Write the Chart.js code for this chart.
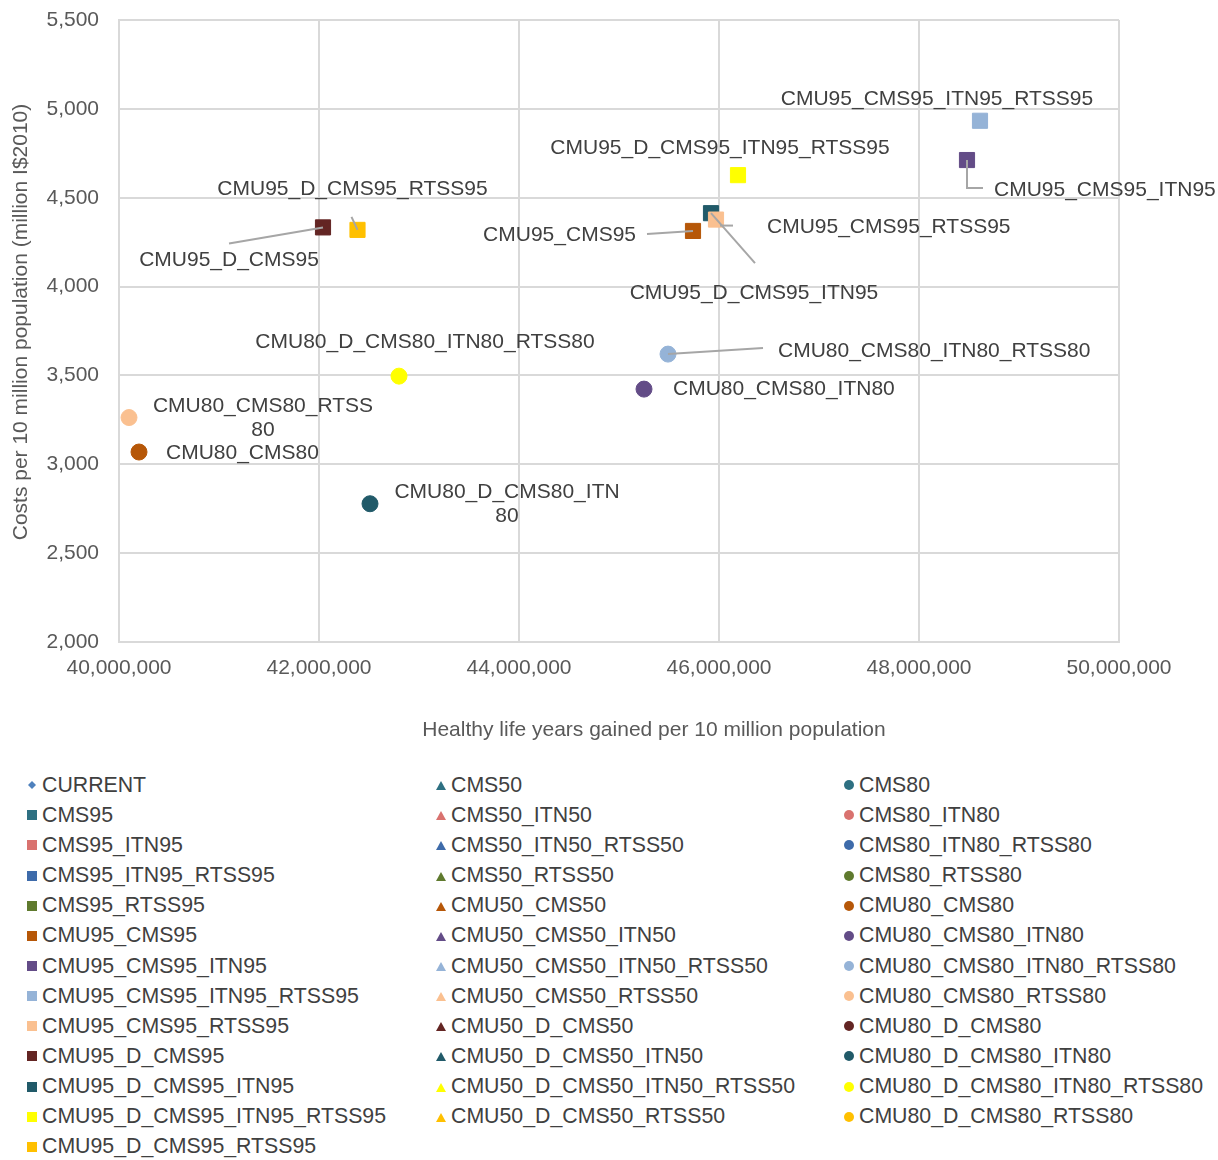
<!DOCTYPE html>
<html>
<head>
<meta charset="utf-8">
<title>Costs vs healthy life years gained</title>
<script src="https://cdn.jsdelivr.net/npm/chart.js"></script>
<style>
    body { margin: 0; background: #ffffff; font-family: "Liberation Sans", Arial, sans-serif; }
    #wrap { position: relative; width: 1218px; height: 1160px; }
    #chartBox { position: absolute; left: 0; top: 0; width: 1218px; height: 760px; }
    #legend { position: absolute; left: 0; top: 770px; width: 1218px; }
    .col { position: absolute; top: 0; }
    .item { height: 30.17px; display: flex; align-items: center; font-size: 21.3px; color: #404040; white-space: nowrap; }
    .item svg { width: 10px; height: 10px; margin-right: 5px; flex: none; }
</style>
</head>
<body>
<div id="wrap">
    <div id="chartBox"><canvas id="chart"></canvas></div>
    <div id="legend"></div>
</div>
<script>
// scenario names, in legend order (3 columns: 95 + current, 50, 80)
const scenarios = [
    'CURRENT', 'CMS95', 'CMS95_ITN95', 'CMS95_ITN95_RTSS95', 'CMS95_RTSS95',
    'CMU95_CMS95', 'CMU95_CMS95_ITN95', 'CMU95_CMS95_ITN95_RTSS95', 'CMU95_CMS95_RTSS95',
    'CMU95_D_CMS95', 'CMU95_D_CMS95_ITN95', 'CMU95_D_CMS95_ITN95_RTSS95', 'CMU95_D_CMS95_RTSS95',
    'CMS50', 'CMS50_ITN50', 'CMS50_ITN50_RTSS50', 'CMS50_RTSS50',
    'CMU50_CMS50', 'CMU50_CMS50_ITN50', 'CMU50_CMS50_ITN50_RTSS50', 'CMU50_CMS50_RTSS50',
    'CMU50_D_CMS50', 'CMU50_D_CMS50_ITN50', 'CMU50_D_CMS50_ITN50_RTSS50', 'CMU50_D_CMS50_RTSS50',
    'CMS80', 'CMS80_ITN80', 'CMS80_ITN80_RTSS80', 'CMS80_RTSS80',
    'CMU80_CMS80', 'CMU80_CMS80_ITN80', 'CMU80_CMS80_ITN80_RTSS80', 'CMU80_CMS80_RTSS80',
    'CMU80_D_CMS80', 'CMU80_D_CMS80_ITN80', 'CMU80_D_CMS80_ITN80_RTSS80', 'CMU80_D_CMS80_RTSS80'
];

// healthy life years gained per 10 million (null = not inside the plotted range)
const healthyYears = [
    null, null, null, null, null,
    45740000, 48480000, 48610000, 45970000,
    42040000, 45920000, 46190000, 42385000,
    null, null, null, null, null, null, null, null, null, null, null, null,
    null, null, null, null,
    40200000, 45250000, 45490000, 40100000,
    null, 42510000, 42800000, null
];

// costs per 10 million population (million I$2010)
const costs = [
    null, null, null, null, null,
    4313, 4712, 4933, 4377,
    4333, 4413, 4627, 4319,
    null, null, null, null, null, null, null, null, null, null, null, null,
    null, null, null, null,
    3069, 3423, 3620, 3263,
    null, 2778, 3496, null
];

const xTicks = [40000000, 42000000, 44000000, 46000000, 48000000, 50000000];
const yTicks = [2000, 2500, 3000, 3500, 4000, 4500, 5000, 5500];
const xTitle = 'Healthy life years gained per 10 million population';
const yTitle = 'Costs per 10 million population (million I$2010)';

// styles
const palette = ['#2E7082', '#D9726F', '#3E6BAA', '#5F7A2E', '#B65708', '#634C87',
                 '#95B3D7', '#FAC090', '#632523', '#215A69', '#FFFF00', '#FFC000'];
const colors = ['#4F81BD', ...palette, ...palette, ...palette];
const shapes = scenarios.map((s, i) => i === 0 ? 'rectRot' : i < 13 ? 'rect' : i < 25 ? 'triangle' : 'circle');
const FONT = '"Liberation Sans", Arial, sans-serif';

// where each data label sits relative to its point (px), plus leader lines
const labelPlacement = {
    'CMU95_CMS95_ITN95_RTSS95': { dx: -43, dy: -22, align: 'center' },
    'CMU95_CMS95_ITN95': { dx: 27, dy: 30, align: 'left', leader: [[0, 0], [0, 28], [16, 28]] },
    'CMU95_D_CMS95_ITN95_RTSS95': { dx: -18, dy: -27, align: 'center' },
    'CMU95_D_CMS95_ITN95': { dx: 43, dy: 80, align: 'center', leader: [[0, 0], [44, 50]] },
    'CMU95_CMS95_RTSS95': { dx: 51, dy: 8, align: 'left', leader: [[4, 6], [17, 6]] },
    'CMU95_CMS95': { dx: -57, dy: 4, align: 'right', leader: [[-46, 3], [0, 0]] },
    'CMU95_D_CMS95': { dx: -94, dy: 33, align: 'center', leader: [[-94, 16], [0, 0]] },
    'CMU95_D_CMS95_RTSS95': { dx: -5, dy: -41, align: 'center', leader: [[-6, -13], [0, 0]] },
    'CMU80_D_CMS80_ITN80_RTSS80': { dx: 26, dy: -34, align: 'center' },
    'CMU80_CMS80_ITN80_RTSS80': { dx: 110, dy: -3, align: 'left', leader: [[0, 0], [95, -6]] },
    'CMU80_CMS80_ITN80': { dx: 29, dy: 0, align: 'left' },
    'CMU80_CMS80_RTSS80': { dx: 134, dy: -11, align: 'center', lines: ['CMU80_CMS80_RTSS', '80'] },
    'CMU80_CMS80': { dx: 27, dy: 1, align: 'left' },
    'CMU80_D_CMS80_ITN80': { dx: 137, dy: -12, align: 'center', lines: ['CMU80_D_CMS80_ITN', '80'] }
};

const pointLabels = {
    id: 'pointLabels',
    afterDatasetsDraw(chart) {
        const ctx = chart.ctx;
        ctx.save();
        chart.data.datasets.forEach((ds, i) => {
            const place = labelPlacement[ds.label];
            const pt = chart.getDatasetMeta(i).data[0];
            if (!place || !pt) return;
            if (place.leader) {
                ctx.beginPath();
                ctx.strokeStyle = '#A6A6A6';
                ctx.lineWidth = 2;
                place.leader.forEach(([lx, ly], k) => {
                    if (k === 0) ctx.moveTo(pt.x + lx, pt.y + ly);
                    else ctx.lineTo(pt.x + lx, pt.y + ly);
                });
                ctx.stroke();
            }
            ctx.font = '21px ' + FONT;
            ctx.fillStyle = '#404040';
            ctx.textAlign = place.align;
            ctx.textBaseline = 'middle';
            (place.lines || [ds.label]).forEach((t, k) => {
                ctx.fillText(t, pt.x + place.dx, pt.y + place.dy + k * 24);
            });
        });
        ctx.restore();
    }
};

const axisTitles = {
    id: 'axisTitles',
    afterDraw(chart) {
        const ctx = chart.ctx;
        const area = chart.chartArea;
        ctx.save();
        ctx.font = '21px ' + FONT;
        ctx.fillStyle = '#595959';
        ctx.textAlign = 'center';
        ctx.textBaseline = 'middle';
        ctx.fillText(xTitle, (area.left + area.right) / 2 + 35, 730);
        ctx.translate(21, (area.top + area.bottom) / 2 - 9);
        ctx.rotate(-Math.PI / 2);
        ctx.fillText(yTitle, 0, 0);
        ctx.restore();
    }
};

const datasets = scenarios.map((name, i) => ({
    label: name,
    data: healthyYears[i] == null ? [] : [{ x: healthyYears[i], y: costs[i] }],
    pointStyle: shapes[i],
    backgroundColor: colors[i],
    borderColor: colors[i],
    borderWidth: 1,
    pointRadius: shapes[i] === 'rect' ? 10.7 : 8,
    pointHoverRadius: shapes[i] === 'rect' ? 10.7 : 8
}));

new Chart(document.getElementById('chart'), {
    type: 'scatter',
    data: { datasets: datasets },
    plugins: [pointLabels, axisTitles],
    options: {
        responsive: true,
        maintainAspectRatio: false,
        animation: false,
        layout: { padding: { left: 0, right: 99, top: 20, bottom: 0 } },
        plugins: { legend: { display: false }, tooltip: { enabled: false } },
        scales: {
            x: {
                type: 'linear',
                min: xTicks[0],
                max: xTicks[xTicks.length - 1],
                afterFit: s => { s.height = 118; s.paddingLeft = 0; s.paddingRight = 0; },
                afterBuildTicks: s => { s.ticks = xTicks.map(v => ({ value: v })); },
                grid: { color: '#D9D9D9', lineWidth: 2, drawTicks: false },
                border: { color: '#D9D9D9', width: 2 },
                ticks: {
                    padding: 14,
                    color: '#595959',
                    font: { family: FONT, size: 21 },
                    maxRotation: 0,
                    callback: v => v.toLocaleString('en-US')
                }
            },
            y: {
                type: 'linear',
                min: yTicks[0],
                max: yTicks[yTicks.length - 1],
                afterFit: s => { s.width = 119; s.paddingTop = 0; s.paddingBottom = 0; },
                afterBuildTicks: s => { s.ticks = yTicks.map(v => ({ value: v })); },
                grid: { color: '#D9D9D9', lineWidth: 2, drawTicks: false },
                border: { color: '#D9D9D9', width: 2 },
                ticks: {
                    padding: 20,
                    color: '#595959',
                    font: { family: FONT, size: 21 },
                    callback: v => v.toLocaleString('en-US')
                }
            }
        }
    }
});

// legend, laid out column by column like the original
const legendEl = document.getElementById('legend');
const columns = [[0, 13, 27], [13, 25, 436], [25, 37, 844]];
function markerSvg(shape, color) {
    let body;
    if (shape === 'rectRot') body = '<polygon points="5,1 9,5 5,9 1,5" fill="' + color + '"/>';
    else if (shape === 'rect') body = '<rect x="0" y="0" width="10" height="10" fill="' + color + '"/>';
    else if (shape === 'triangle') body = '<polygon points="5,1 10,10 0,10" fill="' + color + '"/>';
    else body = '<circle cx="5" cy="5" r="5" fill="' + color + '"/>';
    return '<svg viewBox="0 0 10 10">' + body + '</svg>';
}
columns.forEach(([from, to, left]) => {
    const col = document.createElement('div');
    col.className = 'col';
    col.style.left = left + 'px';
    for (let i = from; i < to; i++) {
        const item = document.createElement('div');
        item.className = 'item';
        item.innerHTML = markerSvg(shapes[i], colors[i]);
        item.appendChild(document.createTextNode(scenarios[i]));
        col.appendChild(item);
    }
    legendEl.appendChild(col);
});
</script>
</body>
</html>
